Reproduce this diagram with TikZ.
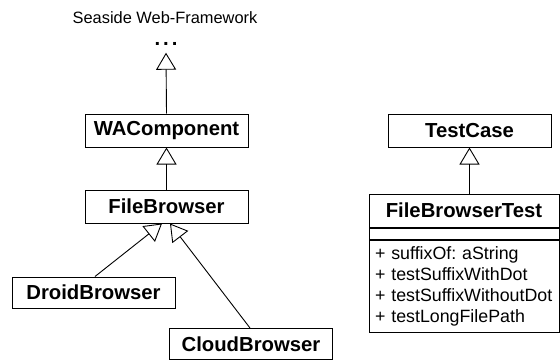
\documentclass[tikz,border=0pt]{standalone}
\usepackage{fontspec}
\setmainfont{Liberation Sans}
\usetikzlibrary{arrows.meta}
\frenchspacing
\tikzset{
	cls/.style={draw, line width=1pt, minimum width=163pt, minimum height=33pt, inner sep=0pt,
		font=\fontsize{20.3}{24}\selectfont\bfseries},
	isa/.style={line width=0.9pt, -{Triangle[open, length=17pt, width=20pt, line width=0.9pt]}},
}
\begin{document}
\begin{tikzpicture}[x=1pt, y=-1pt]
	\useasboundingbox (0,0) rectangle (560,361);
	\node (seaside) at (165,18) {\fontsize{16.4}{19}\selectfont Seaside Web-Framework};
	\node[inner sep=0pt, font=\fontsize{20.3}{24}\selectfont\bfseries] (dots) at (166,44) {.\kern3pt.\kern3pt.};
	\node[cls] (wac) at (166.5,130.5) {WAComponent};
	\node[cls] (fb) at (166.5,206.5) {FileBrowser};
	\node[cls, minimum height=31pt] (droid) at (93.5,292.5) {DroidBrowser};
	\node[cls, minimum height=31pt] (cloud) at (251,344) {CloudBrowser};
	\node[cls] (testcase) at (469.5,130.5) {TestCase};
	% class box with three compartments
	\node[cls, minimum width=190pt] (fbt) at (464,210.5) {FileBrowserTest};
	\node[draw, line width=1pt, minimum width=190pt, minimum height=11pt, inner sep=0pt,
		anchor=north] (fbtattr) at (fbt.south) {};
	\node[draw, line width=1pt, minimum width=190pt, minimum height=92pt, text width=178pt,
		inner xsep=6pt, align=left, anchor=north, font=\fontsize{17.8}{21}\selectfont] (fbtops) at (fbtattr.south)
		{+ suffixOf: aString\\+ testSuffixWithDot\\+ testSuffixWithoutDot\\+ testLongFilePath};
	\draw[isa] (wac.north) -- ([yshift=-7pt]dots.south);
	\draw[isa] (fb.north) -- (wac.south);
	\draw[isa] ([xshift=1.5pt]droid.north) -- ([xshift=-4.5pt]fb.south);
	\draw[isa] ([xshift=-1pt]cloud.north) -- ([xshift=3.5pt]fb.south);
	\draw[isa] (testcase.south |- fbt.north) -- (testcase.south);
\end{tikzpicture}
\end{document}
